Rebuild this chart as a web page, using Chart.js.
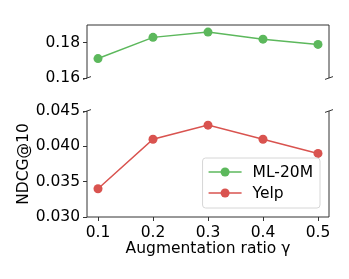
<!DOCTYPE html>
<html>
<head>
<meta charset="utf-8">
<script src="https://cdn.jsdelivr.net/npm/chart.js@4.4.1/dist/chart.umd.min.js"></script>
<style>
  html, body { margin: 0; padding: 0; background: #fff; }
  #wrap { position: relative; width: 349px; height: 279px; }
  #wrap canvas { position: absolute; left: 0; }
  #top { top: 0; }
  #bottom { top: 95px; }
</style>
</head>
<body>
<div id="wrap">
  <canvas id="top" width="349" height="95"></canvas>
  <canvas id="bottom" width="349" height="184"></canvas>
</div>
<script>
// Data
const ratios = [0.1, 0.2, 0.3, 0.4, 0.5];
const ml20m = [0.171, 0.183, 0.186, 0.182, 0.179];
const yelp = [0.034, 0.041, 0.043, 0.041, 0.039];
const topTicks = [0.16, 0.18];
const bottomTicks = [0.030, 0.035, 0.040, 0.045];
const xTicks = [0.1, 0.2, 0.3, 0.4, 0.5];
const seriesNames = ['ML-20M', 'Yelp'];

const GREEN = '#5cb85c';
const RED = '#d9534f';
const FONT = 'DejaVu Sans';
const FS = 15.5;
const AXIS = '#333';

Chart.defaults.font.family = FONT;
Chart.defaults.font.size = FS;
Chart.defaults.color = '#000';

const points = (ys) => ratios.map((x, i) => ({ x, y: ys[i] }));

// matplotlib-like spines, drawn by hand so each side can be switched off
const spines = {
  id: 'spines',
  afterDraw(c, args, opts) {
    const { ctx } = c;
    const a = c.chartArea;
    ctx.save();
    ctx.strokeStyle = AXIS;
    ctx.lineWidth = 1;
    ctx.beginPath();
    if (opts.top) { ctx.moveTo(a.left, a.top); ctx.lineTo(a.right, a.top); }
    if (opts.bottom) { ctx.moveTo(a.left, a.bottom); ctx.lineTo(a.right, a.bottom); }
    ctx.moveTo(a.left, a.top); ctx.lineTo(a.left, a.bottom);
    ctx.moveTo(a.right, a.top); ctx.lineTo(a.right, a.bottom);
    ctx.stroke();
    // broken axis marks
    const y = opts.breakAt === 'bottom' ? a.bottom : a.top;
    ctx.beginPath();
    [a.left, a.right].forEach((x) => {
      ctx.moveTo(x - 4, y + 1.4);
      ctx.lineTo(x + 4, y - 1.4);
    });
    ctx.stroke();
    ctx.restore();
  },
};

// legend box in the lower right, like matplotlib's
const boxLegend = {
  id: 'boxLegend',
  afterDraw(c, args, opts) {
    const { ctx } = c;
    const a = c.chartArea;
    ctx.save();
    ctx.font = `${FS}px "${FONT}"`;
    const tw = Math.max(...opts.labels.map((t) => ctx.measureText(t).width));
    const w = 50 + tw + 7;
    const h = 50;
    const x0 = a.right - 9 - w;
    const y0 = a.bottom - 9 - h;
    ctx.fillStyle = 'rgba(255,255,255,0.8)';
    ctx.strokeStyle = '#d6d6d6';
    ctx.lineWidth = 1;
    ctx.beginPath();
    ctx.roundRect(x0, y0, w, h, 3);
    ctx.fill();
    ctx.stroke();
    opts.labels.forEach((t, i) => {
      const y = y0 + 14 + i * 21;
      ctx.strokeStyle = opts.colors[i];
      ctx.lineWidth = 1.5;
      ctx.beginPath();
      ctx.moveTo(x0 + 6, y);
      ctx.lineTo(x0 + 39, y);
      ctx.stroke();
      ctx.fillStyle = opts.colors[i];
      ctx.beginPath();
      ctx.arc(x0 + 22.5, y, 4.5, 0, Math.PI * 2);
      ctx.fill();
      ctx.fillStyle = '#000';
      ctx.textBaseline = 'middle';
      ctx.fillText(t, x0 + 50, y + 1);
    });
    ctx.restore();
  },
};

const lineSet = (label, ys, color) => ({
  label,
  data: points(ys),
  borderColor: color,
  backgroundColor: color,
  borderWidth: 1.5,
  pointRadius: 4.5,
  pointHoverRadius: 4.5,
  pointBorderWidth: 0,
});

const xBase = {
  type: 'linear',
  min: 0.08,
  max: 0.52,
  afterBuildTicks: (s) => { s.ticks = xTicks.map((v) => ({ value: v })); },
};

const xShown = {
  ...xBase,
  afterFit: (s) => { s.height = 62; },
  border: { display: false },
  grid: { drawOnChartArea: false, drawTicks: true, tickLength: 4, color: AXIS },
  ticks: { padding: 3, callback: (v) => v.toFixed(1) },
  title: {
    display: true,
    text: 'Augmentation ratio γ',
    padding: { top: 0, bottom: 21 },
  },
};

const yScale = (min, max, ticks, digits, title) => ({
  min,
  max,
  afterBuildTicks: (s) => { s.ticks = ticks.map((v) => ({ value: v })); },
  afterFit: (s) => { s.width = 87; },
  border: { display: false },
  grid: { drawOnChartArea: false, drawTicks: true, tickLength: 4, color: AXIS },
  ticks: { padding: 3, callback: (v) => v.toFixed(digits) },
  title: {
    display: !!title,
    text: title || '',
    padding: { top: 15, bottom: 0 },
  },
});

const common = {
  responsive: false,
  animation: false,
  events: [],
};

new Chart(document.getElementById('top'), {
  type: 'line',
  data: { datasets: [lineSet(seriesNames[0], ml20m, GREEN)] },
  options: {
    ...common,
    layout: { padding: { left: 0, right: 20, top: 25, bottom: 17 } },
    scales: {
      x: { ...xBase, display: false },
      y: yScale(0.16, 0.19, topTicks, 2),
    },
    plugins: {
      legend: { display: false },
      tooltip: { enabled: false },
      spines: { top: true, bottom: false, breakAt: 'bottom' },
    },
  },
  plugins: [spines],
});

new Chart(document.getElementById('bottom'), {
  type: 'line',
  data: { datasets: [lineSet(seriesNames[1], yelp, RED)] },
  options: {
    ...common,
    layout: { padding: { left: 0, right: 20, top: 16, bottom: 0 } },
    scales: {
      x: xShown,
      y: yScale(0.030, 0.045, bottomTicks, 3, 'NDCG@10'),
    },
    plugins: {
      legend: { display: false },
      tooltip: { enabled: false },
      spines: { top: false, bottom: true, breakAt: 'top' },
      boxLegend: { labels: seriesNames, colors: [GREEN, RED] },
    },
  },
  plugins: [spines, boxLegend],
});
</script>
</body>
</html>
